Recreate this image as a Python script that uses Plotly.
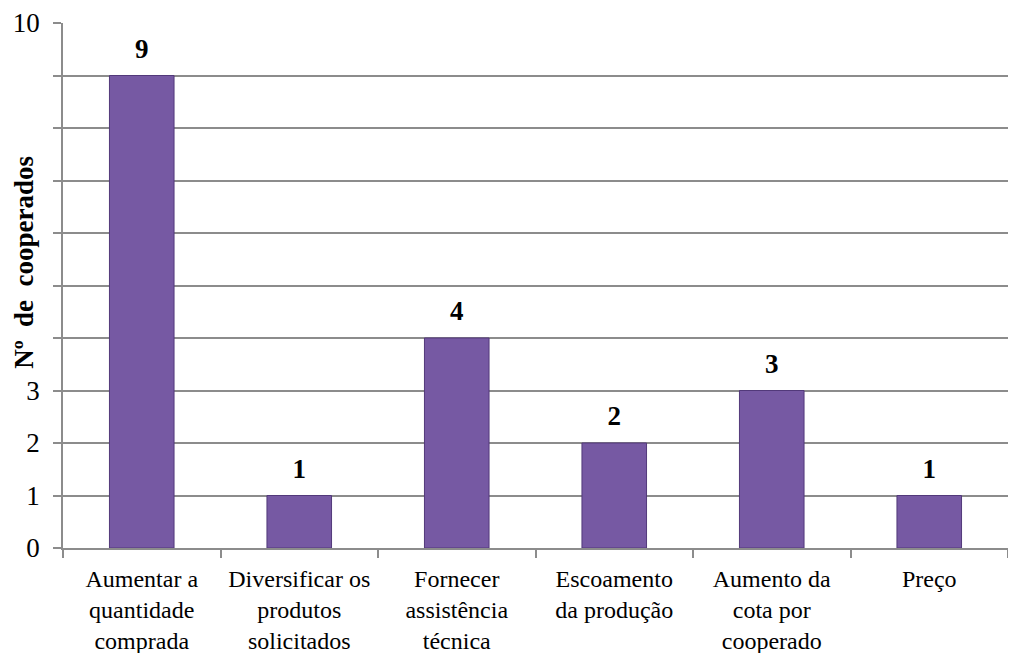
import plotly.graph_objects as go

categories = [
    "Aumentar a<br>quantidade<br>comprada",
    "Diversificar os<br>produtos<br>solicitados",
    "Fornecer<br>assistência<br>técnica",
    "Escoamento<br>da produção",
    "Aumento da<br>cota por<br>cooperado",
    "Preço",
]
values = [9, 1, 4, 2, 3, 1]
y_tickvals = [0, 1, 2, 3, 4, 5, 6, 7, 8, 9, 10]
y_ticktext = ["0", "1", "2", "3", "", "", "", "", "", "", "10"]

FONT = "Liberation Serif"

fig = go.Figure()
fig.add_trace(go.Bar(
    x=categories,
    y=values,
    width=0.41,
    marker=dict(color="#7659a3", line=dict(color="#52397a", width=1)),
    hoverinfo="skip",
))
# value labels, lifted above the bars
fig.add_trace(go.Scatter(
    x=categories,
    y=values,
    mode="markers+text",
    marker=dict(size=16, color="rgba(0,0,0,0)"),
    text=[f"<b>{v}</b>" for v in values],
    textposition="top center",
    textfont=dict(family=FONT, size=27, color="black"),
    cliponaxis=False,
    hoverinfo="skip",
))

fig.update_layout(
    width=1000, height=645,
    margin=dict(l=55, r=0, t=15, b=105),
    paper_bgcolor="white", plot_bgcolor="white",
    showlegend=False,
    font=dict(family=FONT, size=24, color="black"),
)
fig.update_yaxes(
    range=[0, 10],
    tickmode="array", tickvals=y_tickvals, ticktext=y_ticktext,
    showgrid=True, gridcolor="#8c8c8c", gridwidth=1.5,
    showline=True, linecolor="#8c8c8c", linewidth=1.5,
    ticks="outside", ticklen=8, tickcolor="#8c8c8c", tickwidth=1.5,
    tickfont=dict(family=FONT, size=27, color="black"),
    ticklabelstandoff=8,
    zeroline=False,
)
fig.update_xaxes(
    showgrid=False,
    showline=True, linecolor="#8c8c8c", linewidth=1.5,
    ticks="outside", tickson="boundaries", ticklen=8, tickcolor="#8c8c8c", tickwidth=1.5,
    tickfont=dict(family=FONT, size=24, color="black"),
    tickangle=0,
    ticklabelstandoff=8,
)
fig.add_annotation(
    text="<b>Nº&nbsp; de&nbsp; cooperados</b>",
    xref="paper", yref="paper", x=-0.0413, y=0.545,
    xanchor="center", yanchor="middle", textangle=-90,
    showarrow=False, font=dict(family=FONT, size=27, color="black"),
)

fig.write_html("out.html")
